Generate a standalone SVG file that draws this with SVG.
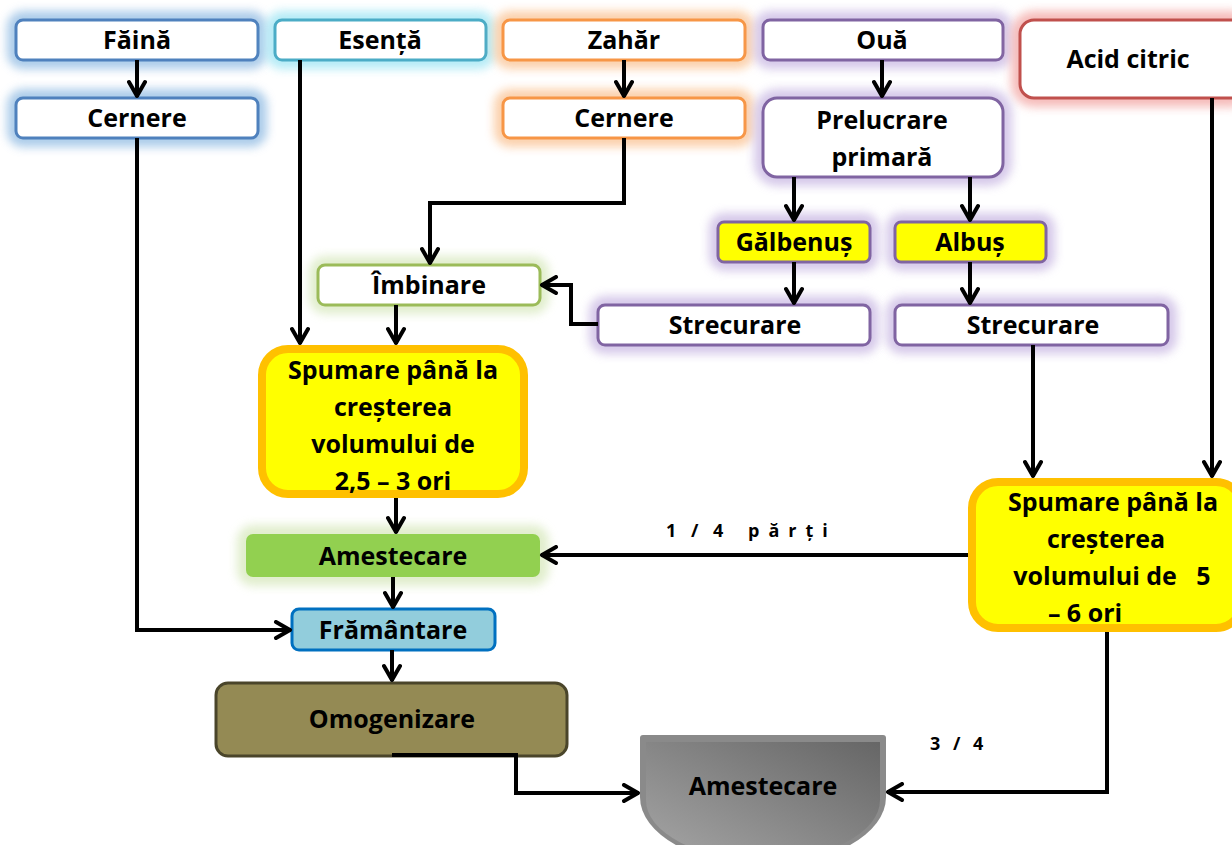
<svg xmlns="http://www.w3.org/2000/svg" width="1232" height="845" viewBox="0 0 1232 845">
<defs>
<filter id="blur" x="-20%" y="-60%" width="140%" height="220%"><feGaussianBlur stdDeviation="5"/></filter>
<linearGradient id="gray" x1="0" y1="1" x2="1" y2="0"><stop offset="0" stop-color="#a6a6a6"/><stop offset="1" stop-color="#666"/></linearGradient>
<marker id="arr" viewBox="0 0 20 20" refX="18" refY="10" markerWidth="20" markerHeight="20" markerUnits="userSpaceOnUse" orient="auto"><path d="M3,2 L17,10 L3,18" fill="none" stroke="#000" stroke-width="4" stroke-linecap="round" stroke-linejoin="round"/></marker>
</defs>
<style>
text{font-family:"Open Sans","Noto Sans","Liberation Sans",sans-serif;font-weight:700;font-size:25px;text-anchor:middle;fill:#000}
.box{stroke-width:3}
.w{fill:#fff}
.glow{fill:none;stroke-width:18;opacity:.85}
.c line,.c polyline{stroke:#000;stroke-width:4;fill:none;marker-end:url(#arr)}
.lbl{font-size:18px;text-anchor:start}
</style>

<g id="n-faina"><rect x="16" y="20" width="242" height="40" rx="7" class="glow" stroke="#9DC3E6" filter="url(#blur)"/><rect x="16" y="20" width="242" height="40" rx="7" class="box w" stroke="#4F81BD"/><text x="137" y="49">Făină</text></g>
<g id="n-esenta"><rect x="275" y="20" width="211" height="40" rx="7" class="glow" stroke="#A8E8F5" filter="url(#blur)"/><rect x="275" y="20" width="211" height="40" rx="7" class="box w" stroke="#4BACC6"/><text x="380" y="49">Esență</text></g>
<g id="n-zahar"><rect x="503" y="20" width="242" height="40" rx="7" class="glow" stroke="#FBC99E" filter="url(#blur)"/><rect x="503" y="20" width="242" height="40" rx="7" class="box w" stroke="#F79646"/><text x="624" y="49">Zahăr</text></g>
<g id="n-oua"><rect x="763" y="20" width="240" height="40" rx="7" class="glow" stroke="#CFC0E6" filter="url(#blur)"/><rect x="763" y="20" width="240" height="40" rx="7" class="box w" stroke="#8064A2"/><text x="882" y="49">Ouă</text></g>
<g id="n-acid"><rect x="1020" y="20" width="225" height="78" rx="14" class="glow" stroke="#F4B0AE" filter="url(#blur)"/><rect x="1020" y="20" width="225" height="78" rx="14" class="box w" stroke="#C0504D"/><text x="1128" y="68">Acid citric</text></g>

<g id="n-cernere1"><rect x="16" y="98" width="242" height="40" rx="7" class="glow" stroke="#9DC3E6" filter="url(#blur)"/><rect x="16" y="98" width="242" height="40" rx="7" class="box w" stroke="#4F81BD"/><text x="137" y="127">Cernere</text></g>
<g id="n-cernere2"><rect x="503" y="98" width="242" height="40" rx="7" class="glow" stroke="#FBC99E" filter="url(#blur)"/><rect x="503" y="98" width="242" height="40" rx="7" class="box w" stroke="#F79646"/><text x="624" y="127">Cernere</text></g>
<g id="n-prelucrare"><rect x="763" y="98" width="240" height="79" rx="14" class="glow" stroke="#CFC0E6" filter="url(#blur)"/><rect x="763" y="98" width="240" height="79" rx="14" class="box w" stroke="#8064A2"/><text x="882" y="129">Prelucrare</text><text x="882" y="166">primară</text></g>

<g id="n-galbenus"><rect x="718" y="222" width="152" height="40" rx="6" class="glow" stroke="#CFC0E6" filter="url(#blur)"/><rect x="718" y="222" width="152" height="40" rx="6" class="box" fill="#FFFF00" stroke="#8064A2"/><text x="794" y="251">Gălbenuș</text></g>
<g id="n-albus"><rect x="895" y="222" width="151" height="40" rx="6" class="glow" stroke="#CFC0E6" filter="url(#blur)"/><rect x="895" y="222" width="151" height="40" rx="6" class="box" fill="#FFFF00" stroke="#8064A2"/><text x="970" y="251">Albuș</text></g>
<g id="n-strecurare1"><rect x="598" y="305" width="272" height="40" rx="7" class="glow" stroke="#CFC0E6" filter="url(#blur)"/><rect x="598" y="305" width="272" height="40" rx="7" class="box w" stroke="#8064A2"/><text x="735" y="334">Strecurare</text></g>
<g id="n-strecurare2"><rect x="895" y="305" width="273" height="40" rx="7" class="glow" stroke="#CFC0E6" filter="url(#blur)"/><rect x="895" y="305" width="273" height="40" rx="7" class="box w" stroke="#8064A2"/><text x="1033" y="334">Strecurare</text></g>
<g id="n-imbinare"><rect x="318" y="265" width="222" height="40" rx="7" class="glow" stroke="#DCEBC4" filter="url(#blur)"/><rect x="318" y="265" width="222" height="40" rx="7" class="box w" stroke="#9BBB59"/><text x="429" y="294">Îmbinare</text></g>

<g id="n-spumare1"><rect x="262" y="349" width="262" height="145" rx="26" fill="#FFFF00" stroke="#FFC000" stroke-width="8"/><text x="393" y="379">Spumare până la</text><text x="393" y="416">creșterea</text><text x="393" y="453">volumului de</text><text x="393" y="490">2,5 – 3 ori</text></g>
<g id="n-spumare2"><rect x="972" y="482" width="270" height="146" rx="26" fill="#FFFF00" stroke="#FFC000" stroke-width="8"/><text x="1113" y="511">Spumare până la</text><text x="1106" y="548">creșterea</text><text x="1112" y="585" xml:space="preserve">volumului de   5</text><text x="1085" y="622">– 6 ori</text></g>

<g id="n-amestecare1"><rect x="246" y="534" width="294" height="43" rx="7" fill="none" stroke="#DCEBC4" stroke-width="18" opacity=".85" filter="url(#blur)"/><rect x="246" y="534" width="294" height="43" rx="7" fill="#92D050"/><text x="393" y="565">Amestecare</text></g>
<g id="n-framantare"><rect x="292" y="609" width="203" height="41" rx="7" fill="#92CDDC" stroke="#0070C0" stroke-width="3"/><text x="393" y="639">Frământare</text></g>
<g id="n-omogenizare"><rect x="216" y="683" width="351" height="73" rx="12" fill="#948A54" stroke="#4A452A" stroke-width="3"/><text x="392" y="728">Omogenizare</text></g>
<g id="n-amestecare2"><path d="M643,735 H883 Q886,735 886,738 V797 A123,68 0 0 1 640,797 V738 Q640,735 643,735 Z" fill="#8a8a8a"/><path d="M646,742 H880 V800 A117,60 0 0 1 646,800 Z" fill="url(#gray)"/><text x="763" y="795">Amestecare</text></g>

<g id="connectors" class="c">
<line x1="137" y1="60" x2="137" y2="97"/>
<polyline points="137,138 137,630 291,630"/>
<line x1="300" y1="60" x2="300" y2="344"/>
<line x1="624" y1="60" x2="624" y2="97"/>
<polyline points="624,138 624,203 430,203 430,264"/>
<line x1="882" y1="60" x2="882" y2="97"/>
<line x1="794" y1="177" x2="794" y2="221"/>
<line x1="970" y1="177" x2="970" y2="221"/>
<line x1="794" y1="262" x2="794" y2="304"/>
<line x1="970" y1="262" x2="970" y2="304"/>
<polyline points="598,324 571,324 571,285 541,285"/>
<line x1="396" y1="305" x2="396" y2="344"/>
<line x1="1212" y1="98" x2="1212" y2="477"/>
<line x1="1033" y1="345" x2="1033" y2="477"/>
<line x1="396" y1="498" x2="396" y2="533"/>
<line x1="968" y1="555" x2="541" y2="555"/>
<line x1="393" y1="577" x2="393" y2="608"/>
<line x1="392" y1="650" x2="392" y2="681"/>
<polyline points="392,755 516,755 516,793 639,793"/>
<polyline points="1107,632 1107,792 887,792"/>
</g>
<text class="lbl" y="537"><tspan x="666" style="letter-spacing:5px">1 / 4</tspan><tspan x="748" style="letter-spacing:9px">părți</tspan></text>
<text class="lbl" x="930" y="750" style="letter-spacing:4px">3 / 4</text>
</svg>
